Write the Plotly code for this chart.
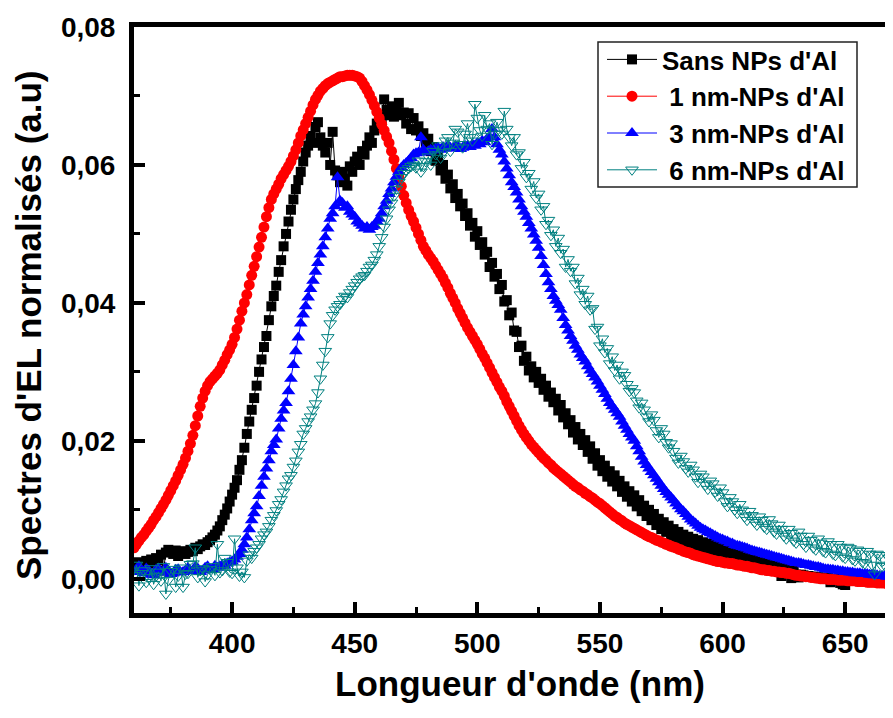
import plotly.graph_objects as go

# Wavelength grid (nm), 1 nm step from 360 to 670
wavelength = list(range(360, 671))

sans_nps = [
    0.0022, 0.0018, 0.0024, 0.0020, 0.0015, 0.0026, 0.0022, 0.0028, 0.0025, 0.0030,
    0.0027, 0.0035, 0.0012, 0.0038, 0.0042, 0.0040, 0.0036, 0.0041, 0.0033, 0.0038,
    0.0040, 0.0036, 0.0039, 0.0042, 0.0040, 0.0045, 0.0043, 0.0047, 0.0050, 0.0049,
    0.0053, 0.0056, 0.0060, 0.0064, 0.0070, 0.0076, 0.0085, 0.0093, 0.0102, 0.0112,
    0.0122, 0.0132, 0.0143, 0.0158, 0.0172, 0.0190, 0.0210, 0.0228, 0.0245, 0.0262,
    0.0280, 0.0300, 0.0318, 0.0336, 0.0352, 0.0375, 0.0395, 0.0410, 0.0425, 0.0445,
    0.0462, 0.0482, 0.0500, 0.0518, 0.0535, 0.0550, 0.0565, 0.0578, 0.0590, 0.0605,
    0.0618, 0.0628, 0.0642, 0.0632, 0.0655, 0.0662, 0.0640, 0.0628, 0.0618, 0.0632,
    0.0600, 0.0648, 0.0592, 0.0585, 0.0575, 0.0590, 0.0580, 0.0570, 0.0598, 0.0590,
    0.0605, 0.0612, 0.0600, 0.0620, 0.0615, 0.0628, 0.0640, 0.0632, 0.0650, 0.0660,
    0.0655, 0.0668, 0.0695, 0.0680, 0.0672, 0.0685, 0.0670, 0.0678, 0.0690, 0.0672,
    0.0676, 0.0660, 0.0675, 0.0652, 0.0668, 0.0650, 0.0656, 0.0642, 0.0646, 0.0630,
    0.0638, 0.0620, 0.0626, 0.0606, 0.0612, 0.0592, 0.0600, 0.0580, 0.0586, 0.0566,
    0.0572, 0.0552, 0.0558, 0.0540, 0.0544, 0.0526, 0.0530, 0.0512, 0.0516, 0.0496,
    0.0504, 0.0484, 0.0488, 0.0470, 0.0474, 0.0452, 0.0458, 0.0438, 0.0442, 0.0420,
    0.0426, 0.0402, 0.0404, 0.0382, 0.0386, 0.0360, 0.0358, 0.0336, 0.0338, 0.0316,
    0.0322, 0.0302, 0.0308, 0.0292, 0.0300, 0.0284, 0.0290, 0.0274, 0.0280, 0.0264,
    0.0270, 0.0256, 0.0261, 0.0244, 0.0252, 0.0234, 0.0240, 0.0224, 0.0230, 0.0212,
    0.0220, 0.0202, 0.0210, 0.0194, 0.0201, 0.0184, 0.0192, 0.0174, 0.0182, 0.0164,
    0.0172, 0.0156, 0.0164, 0.0148, 0.0156, 0.0141, 0.0150, 0.0134, 0.0142, 0.0126,
    0.0134, 0.0119, 0.0127, 0.0112, 0.0121, 0.0105, 0.0114, 0.0098, 0.0106, 0.0091,
    0.0100, 0.0085, 0.0094, 0.0078, 0.0087, 0.0072, 0.0082, 0.0068, 0.0077, 0.0063,
    0.0072, 0.0058, 0.0068, 0.0054, 0.0064, 0.0050, 0.0061, 0.0047, 0.0058, 0.0045,
    0.0056, 0.0042, 0.0053, 0.0040, 0.0051, 0.0038, 0.0049, 0.0036, 0.0047, 0.0034,
    0.0045, 0.0032, 0.0043, 0.0031, 0.0042, 0.0029, 0.0040, 0.0027, 0.0038, 0.0025,
    0.0036, 0.0023, 0.0034, 0.0021, 0.0032, 0.0019, 0.0030, 0.0017, 0.0028, 0.0015,
    0.0026, 0.0012, 0.0024, 0.0010, 0.0004, 0.0020, 0.0008, 0.0018, 0.0001, 0.0014,
    0.0006, 0.0002, 0.0006, 0.0005, 0.0004, 0.0004, 0.0003, 0.0003, 0.0002, 0.0002,
    0.0001, 0.0002, 0.0000, 0.0001, -0.0005, 0.0000, -0.0001, 0.0000, -0.0006, -0.0008,
    -0.0009, -0.0002, 0.0000, -0.0001, -0.0002, 0.0000, 0.0001, -0.0001, 0.0000, -0.0001,
    -0.0002, 0.0000, 0.0001, -0.0001, -0.0002, -0.0001, 0.0000, 0.0001, -0.0001, 0.0000,
    -0.0001,
]

nps_1nm = [
    0.0045, 0.0050, 0.0055, 0.0060, 0.0064, 0.0069, 0.0074, 0.0079, 0.0085, 0.0090,
    0.0096, 0.0102, 0.0108, 0.0114, 0.0121, 0.0128, 0.0135, 0.0142, 0.0150, 0.0158,
    0.0166, 0.0175, 0.0185, 0.0196, 0.0208, 0.0222, 0.0236, 0.0250, 0.0262, 0.0272,
    0.0280, 0.0286, 0.0290, 0.0294, 0.0298, 0.0303, 0.0310, 0.0317, 0.0325, 0.0332,
    0.0340, 0.0350, 0.0362, 0.0375, 0.0388, 0.0400, 0.0412, 0.0426, 0.0440, 0.0453,
    0.0467, 0.0481, 0.0495, 0.0510, 0.0525, 0.0538, 0.0550, 0.0558, 0.0565, 0.0572,
    0.0580, 0.0586, 0.0592, 0.0598, 0.0605, 0.0613, 0.0622, 0.0632, 0.0642, 0.0651,
    0.0660, 0.0669, 0.0678, 0.0687, 0.0695, 0.0701, 0.0707, 0.0711, 0.0715, 0.0718,
    0.0720, 0.0722, 0.0724, 0.0726, 0.0728, 0.0728, 0.0729, 0.0730, 0.0730, 0.0730,
    0.0729, 0.0728, 0.0726, 0.0721, 0.0715, 0.0709, 0.0702, 0.0694, 0.0686, 0.0677,
    0.0668, 0.0659, 0.0650, 0.0641, 0.0632, 0.0620, 0.0608, 0.0595, 0.0582, 0.0569,
    0.0556, 0.0545, 0.0535, 0.0526, 0.0518, 0.0509, 0.0500, 0.0491, 0.0482, 0.0476,
    0.0470, 0.0465, 0.0460, 0.0454, 0.0448, 0.0442, 0.0436, 0.0429, 0.0422, 0.0414,
    0.0407, 0.0400, 0.0392, 0.0385, 0.0378, 0.0371, 0.0364, 0.0358, 0.0352, 0.0346,
    0.0340, 0.0333, 0.0326, 0.0320, 0.0313, 0.0306, 0.0299, 0.0292, 0.0285, 0.0278,
    0.0272, 0.0265, 0.0257, 0.0250, 0.0243, 0.0236, 0.0229, 0.0222, 0.0216, 0.0210,
    0.0205, 0.0200, 0.0195, 0.0191, 0.0187, 0.0183, 0.0179, 0.0175, 0.0172, 0.0168,
    0.0165, 0.0161, 0.0158, 0.0155, 0.0152, 0.0149, 0.0146, 0.0143, 0.0140, 0.0137,
    0.0134, 0.0132, 0.0129, 0.0127, 0.0124, 0.0122, 0.0119, 0.0117, 0.0114, 0.0111,
    0.0109, 0.0106, 0.0103, 0.0100, 0.0097, 0.0094, 0.0091, 0.0089, 0.0086, 0.0084,
    0.0081, 0.0079, 0.0077, 0.0075, 0.0073, 0.0071, 0.0069, 0.0067, 0.0065, 0.0063,
    0.0061, 0.0060, 0.0058, 0.0056, 0.0055, 0.0053, 0.0052, 0.0050, 0.0049, 0.0047,
    0.0046, 0.0045, 0.0043, 0.0042, 0.0040, 0.0039, 0.0038, 0.0037, 0.0035, 0.0034,
    0.0033, 0.0032, 0.0031, 0.0030, 0.0029, 0.0028, 0.0027, 0.0026, 0.0025, 0.0025,
    0.0024, 0.0023, 0.0023, 0.0022, 0.0022, 0.0021, 0.0020, 0.0020, 0.0019, 0.0018,
    0.0018, 0.0017, 0.0016, 0.0016, 0.0015, 0.0014, 0.0013, 0.0013, 0.0012, 0.0012,
    0.0011, 0.0011, 0.0010, 0.0010, 0.0009, 0.0009, 0.0008, 0.0008, 0.0007, 0.0006,
    0.0005, 0.0005, 0.0004, 0.0004, 0.0003, 0.0003, 0.0002, 0.0002, 0.0001, 0.0001,
    0.0000, 0.0000, 0.0000, -0.0001, -0.0001, -0.0001, -0.0001, -0.0002, -0.0002, -0.0002,
    -0.0002, -0.0003, -0.0003, -0.0003, -0.0003, -0.0004, -0.0004, -0.0004, -0.0004, -0.0005,
    -0.0005, -0.0005, -0.0005, -0.0006, -0.0006, -0.0006, -0.0006, -0.0007, -0.0007, -0.0007,
    -0.0007,
]

nps_3nm = [
    0.0010, 0.0014, 0.0018, 0.0011, 0.0008, 0.0015, 0.0012, 0.0006, 0.0005, 0.0013,
    0.0015, 0.0009, 0.0010, 0.0016, 0.0012, 0.0007, 0.0008, 0.0013, 0.0014, 0.0009,
    0.0010, 0.0012, 0.0016, 0.0011, 0.0012, 0.0017, 0.0015, 0.0010, 0.0012, 0.0016,
    0.0018, 0.0013, 0.0014, 0.0019, 0.0016, 0.0018, 0.0020, 0.0019, 0.0022, 0.0024,
    0.0025, 0.0028, 0.0032, 0.0036, 0.0042, 0.0050, 0.0060, 0.0072, 0.0085, 0.0095,
    0.0105, 0.0120, 0.0135, 0.0148, 0.0160, 0.0172, 0.0185, 0.0194, 0.0202, 0.0218,
    0.0232, 0.0244, 0.0255, 0.0272, 0.0290, 0.0310, 0.0330, 0.0350, 0.0370, 0.0383,
    0.0395, 0.0408, 0.0420, 0.0432, 0.0445, 0.0458, 0.0470, 0.0482, 0.0495, 0.0508,
    0.0522, 0.0530, 0.0540, 0.0582, 0.0548, 0.0545, 0.0538, 0.0540, 0.0532, 0.0528,
    0.0525, 0.0518, 0.0515, 0.0512, 0.0508, 0.0510, 0.0506, 0.0510, 0.0512, 0.0518,
    0.0522, 0.0530, 0.0540, 0.0548, 0.0558, 0.0566, 0.0575, 0.0583, 0.0590, 0.0596,
    0.0600, 0.0603, 0.0606, 0.0610, 0.0615, 0.0617, 0.0618, 0.0640, 0.0622, 0.0618,
    0.0620, 0.0622, 0.0621, 0.0624, 0.0625, 0.0622, 0.0626, 0.0624, 0.0628, 0.0625,
    0.0624, 0.0628, 0.0627, 0.0623, 0.0625, 0.0628, 0.0628, 0.0626, 0.0630, 0.0628,
    0.0632, 0.0630, 0.0635, 0.0633, 0.0638, 0.0640, 0.0652, 0.0640, 0.0630, 0.0622,
    0.0615, 0.0605, 0.0595, 0.0585, 0.0575, 0.0568, 0.0560, 0.0550, 0.0540, 0.0532,
    0.0525, 0.0516, 0.0508, 0.0499, 0.0490, 0.0480, 0.0468, 0.0455, 0.0442, 0.0430,
    0.0420, 0.0410, 0.0403, 0.0397, 0.0390, 0.0378, 0.0368, 0.0360, 0.0352, 0.0345,
    0.0338, 0.0332, 0.0325, 0.0320, 0.0315, 0.0308, 0.0302, 0.0297, 0.0292, 0.0286,
    0.0280, 0.0274, 0.0268, 0.0261, 0.0255, 0.0250, 0.0245, 0.0240, 0.0235, 0.0228,
    0.0222, 0.0216, 0.0210, 0.0205, 0.0200, 0.0192, 0.0185, 0.0177, 0.0170, 0.0165,
    0.0160, 0.0155, 0.0150, 0.0145, 0.0140, 0.0135, 0.0130, 0.0126, 0.0122, 0.0118,
    0.0114, 0.0109, 0.0105, 0.0101, 0.0098, 0.0094, 0.0090, 0.0086, 0.0083, 0.0080,
    0.0077, 0.0074, 0.0072, 0.0070, 0.0068, 0.0066, 0.0064, 0.0062, 0.0060, 0.0058,
    0.0057, 0.0055, 0.0054, 0.0052, 0.0051, 0.0049, 0.0048, 0.0047, 0.0046, 0.0045,
    0.0044, 0.0042, 0.0041, 0.0040, 0.0039, 0.0038, 0.0037, 0.0036, 0.0035, 0.0034,
    0.0033, 0.0032, 0.0031, 0.0030, 0.0029, 0.0028, 0.0027, 0.0026, 0.0025, 0.0024,
    0.0023, 0.0023, 0.0022, 0.0021, 0.0020, 0.0020, 0.0019, 0.0018, 0.0017, 0.0017,
    0.0016, 0.0015, 0.0014, 0.0014, 0.0013, 0.0013, 0.0012, 0.0012, 0.0011, 0.0011,
    0.0010, 0.0010, 0.0009, 0.0009, 0.0008, 0.0008, 0.0008, 0.0007, 0.0007, 0.0007,
    0.0006, 0.0006, 0.0005, 0.0005, 0.0004, 0.0004, 0.0004, 0.0003, 0.0003, 0.0003,
    0.0003,
]

nps_6nm = [
    0.0005, 0.0020, -0.0010, 0.0008, 0.0012, -0.0005, 0.0002, 0.0015, -0.0008, 0.0004,
    0.0010, -0.0003, 0.0018, -0.0022, -0.0002, 0.0011, 0.0014, -0.0012, 0.0004, 0.0016,
    -0.0012, 0.0007, 0.0008, 0.0021, 0.0022, 0.0045, 0.0002, 0.0012, 0.0015, -0.0004,
    0.0006, 0.0014, 0.0018, 0.0005, 0.0050, 0.0009, 0.0012, 0.0030, 0.0024, 0.0010,
    0.0008, 0.0058, 0.0016, 0.0004, 0.0010, 0.0002, 0.0026, 0.0035, 0.0030, 0.0040,
    0.0045, 0.0050, 0.0058, 0.0064, 0.0068, 0.0076, 0.0085, 0.0092, 0.0099, 0.0108,
    0.0115, 0.0126, 0.0135, 0.0145, 0.0150, 0.0162, 0.0171, 0.0184, 0.0195, 0.0210,
    0.0218, 0.0228, 0.0235, 0.0245, 0.0254, 0.0270, 0.0290, 0.0310, 0.0330, 0.0350,
    0.0370, 0.0382, 0.0390, 0.0395, 0.0398, 0.0405, 0.0410, 0.0408, 0.0415, 0.0420,
    0.0425, 0.0430, 0.0435, 0.0438, 0.0440, 0.0446, 0.0452, 0.0455, 0.0462, 0.0470,
    0.0482, 0.0495, 0.0510, 0.0522, 0.0535, 0.0545, 0.0555, 0.0565, 0.0575, 0.0582,
    0.0588, 0.0592, 0.0595, 0.0598, 0.0600, 0.0596, 0.0606, 0.0590, 0.0598, 0.0605,
    0.0612, 0.0600, 0.0620, 0.0615, 0.0628, 0.0610, 0.0618, 0.0635, 0.0640, 0.0620,
    0.0632, 0.0652, 0.0648, 0.0630, 0.0625, 0.0645, 0.0660, 0.0640, 0.0635, 0.0688,
    0.0668, 0.0650, 0.0642, 0.0672, 0.0652, 0.0660, 0.0630, 0.0645, 0.0662, 0.0650,
    0.0645, 0.0678, 0.0652, 0.0640, 0.0628, 0.0640, 0.0615, 0.0618, 0.0595, 0.0604,
    0.0582, 0.0588, 0.0565, 0.0576, 0.0552, 0.0558, 0.0535, 0.0540, 0.0514, 0.0520,
    0.0498, 0.0506, 0.0482, 0.0494, 0.0472, 0.0478, 0.0452, 0.0463, 0.0446, 0.0452,
    0.0428, 0.0436, 0.0412, 0.0420, 0.0398, 0.0410, 0.0390, 0.0392, 0.0362, 0.0365,
    0.0338, 0.0348, 0.0328, 0.0334, 0.0312, 0.0322, 0.0302, 0.0310, 0.0290, 0.0300,
    0.0295, 0.0282, 0.0272, 0.0276, 0.0270, 0.0258, 0.0248, 0.0255, 0.0245, 0.0235,
    0.0228, 0.0238, 0.0230, 0.0215, 0.0205, 0.0218, 0.0210, 0.0198, 0.0190, 0.0196,
    0.0185, 0.0175, 0.0168, 0.0178, 0.0170, 0.0160, 0.0155, 0.0165, 0.0158, 0.0148,
    0.0140, 0.0152, 0.0148, 0.0136, 0.0130, 0.0142, 0.0138, 0.0126, 0.0120, 0.0132,
    0.0125, 0.0112, 0.0105, 0.0118, 0.0112, 0.0100, 0.0095, 0.0108, 0.0100, 0.0090,
    0.0085, 0.0098, 0.0092, 0.0082, 0.0078, 0.0090, 0.0085, 0.0075, 0.0072, 0.0086,
    0.0080, 0.0068, 0.0065, 0.0078, 0.0072, 0.0062, 0.0058, 0.0072, 0.0066, 0.0055,
    0.0052, 0.0068, 0.0062, 0.0050, 0.0046, 0.0062, 0.0056, 0.0045, 0.0042, 0.0058,
    0.0052, 0.0040, 0.0038, 0.0054, 0.0050, 0.0036, 0.0034, 0.0050, 0.0046, 0.0032,
    0.0030, 0.0046, 0.0044, 0.0028, 0.0026, 0.0042, 0.0040, 0.0024, 0.0022, 0.0040,
    0.0036, 0.0020, 0.0006, 0.0036, 0.0034, 0.0018, 0.0020, 0.0034, 0.0030, 0.0016,
    0.0024,
]

series_names = ["Sans NPs d'Al", "\u00a01 nm-NPs d'Al", "\u00a03 nm-NPs d'Al", "\u00a06 nm-NPs d'Al"]
series_values = [sans_nps, nps_1nm, nps_3nm, nps_6nm]
series_colors = ["#000000", "#ff0000", "#0000ff", "#008080"]
series_symbols = ["square", "circle", "triangle-up", "triangle-down-open"]
series_sizes = [10, 11, 12, 11]

x_tick_values = [400, 450, 500, 550, 600, 650]
y_tick_values = [0.00, 0.02, 0.04, 0.06, 0.08]

FONT = "Liberation Sans, Arial, sans-serif"

fig = go.Figure()
for name, vals, col, sym, sz in zip(series_names, series_values, series_colors,
                                     series_symbols, series_sizes):
    fig.add_trace(go.Scatter(
        x=wavelength, y=vals, name=name, mode="lines+markers",
        line=dict(color=col, width=1),
        marker=dict(symbol=sym, size=sz, color=col,
                    line=dict(color=col, width=1 if sym.endswith("open") else 0)),
    ))

# Plot area in window pixels: left 134, right 893, top 27, bottom 613.
# The page body has an 8 px margin, so the figure is 8 px smaller than the window.
PL, PW, PB, PH = 134, 759, 613, 586


def px_to_paper_x(px):
    return (px - PL) / PW


def px_to_paper_y(py):
    return (PB - py) / PH


fig.update_layout(
    width=885, height=710,
    margin=dict(l=126, r=0, t=19, b=105),
    paper_bgcolor="white", plot_bgcolor="white",
    separators=", ",
    font=dict(family=FONT, size=28, color="black", weight="bold"),
    showlegend=True,
    legend=dict(
        x=px_to_paper_x(602), y=px_to_paper_y(36), xanchor="left", yanchor="top",
        bgcolor="rgba(0,0,0,0)", borderwidth=0,
        font=dict(family=FONT, size=26, color="black", weight="bold"),
        itemwidth=50, tracegroupgap=0,
    ),
    shapes=[dict(
        type="rect", xref="paper", yref="paper", layer="above",
        x0=px_to_paper_x(598), x1=px_to_paper_x(857),
        y0=px_to_paper_y(187), y1=px_to_paper_y(42),
        line=dict(color="#222222", width=1.5), fillcolor="white",
    )],
)

fig.update_xaxes(
    range=[360, 669.5], tickvals=x_tick_values,
    showline=True, linecolor="black", linewidth=5, mirror=True,
    ticks="inside", ticklen=11, tickwidth=4, tickcolor="black",
    minor=dict(ticks="inside", ticklen=6, tickwidth=3, dtick=25,
               tick0=375, tickcolor="black", showgrid=False),
    showgrid=False, zeroline=False,
    tickfont=dict(family=FONT, size=28, color="black", weight="bold"),
    ticklabelstandoff=1,
)
fig.update_yaxes(
    range=[-0.00496, 0.0800], tickvals=y_tick_values, tickformat=".2f",
    showline=True, linecolor="black", linewidth=5, mirror=False,
    ticks="inside", ticklen=11, tickwidth=4, tickcolor="black",
    minor=dict(ticks="inside", ticklen=6, tickwidth=3, dtick=0.01,
               tick0=0.01, tickcolor="black", showgrid=False),
    showgrid=False, zeroline=False,
    tickfont=dict(family=FONT, size=28, color="black", weight="bold"),
    ticklabelstandoff=8,
)

fig.add_annotation(
    text="Longueur d'onde (nm)", xref="paper", yref="paper",
    x=px_to_paper_x(520), y=px_to_paper_y(683), xanchor="center", yanchor="middle",
    showarrow=False, font=dict(family=FONT, size=35, color="black", weight="bold"),
)
fig.add_annotation(
    text="Spectres d'EL normalisés (a.u)", xref="paper", yref="paper",
    x=px_to_paper_x(28), y=px_to_paper_y(325), xanchor="center", yanchor="middle",
    textangle=-90, showarrow=False,
    font=dict(family=FONT, size=35, color="black", weight="bold"),
)

fig.write_html("out.html")
